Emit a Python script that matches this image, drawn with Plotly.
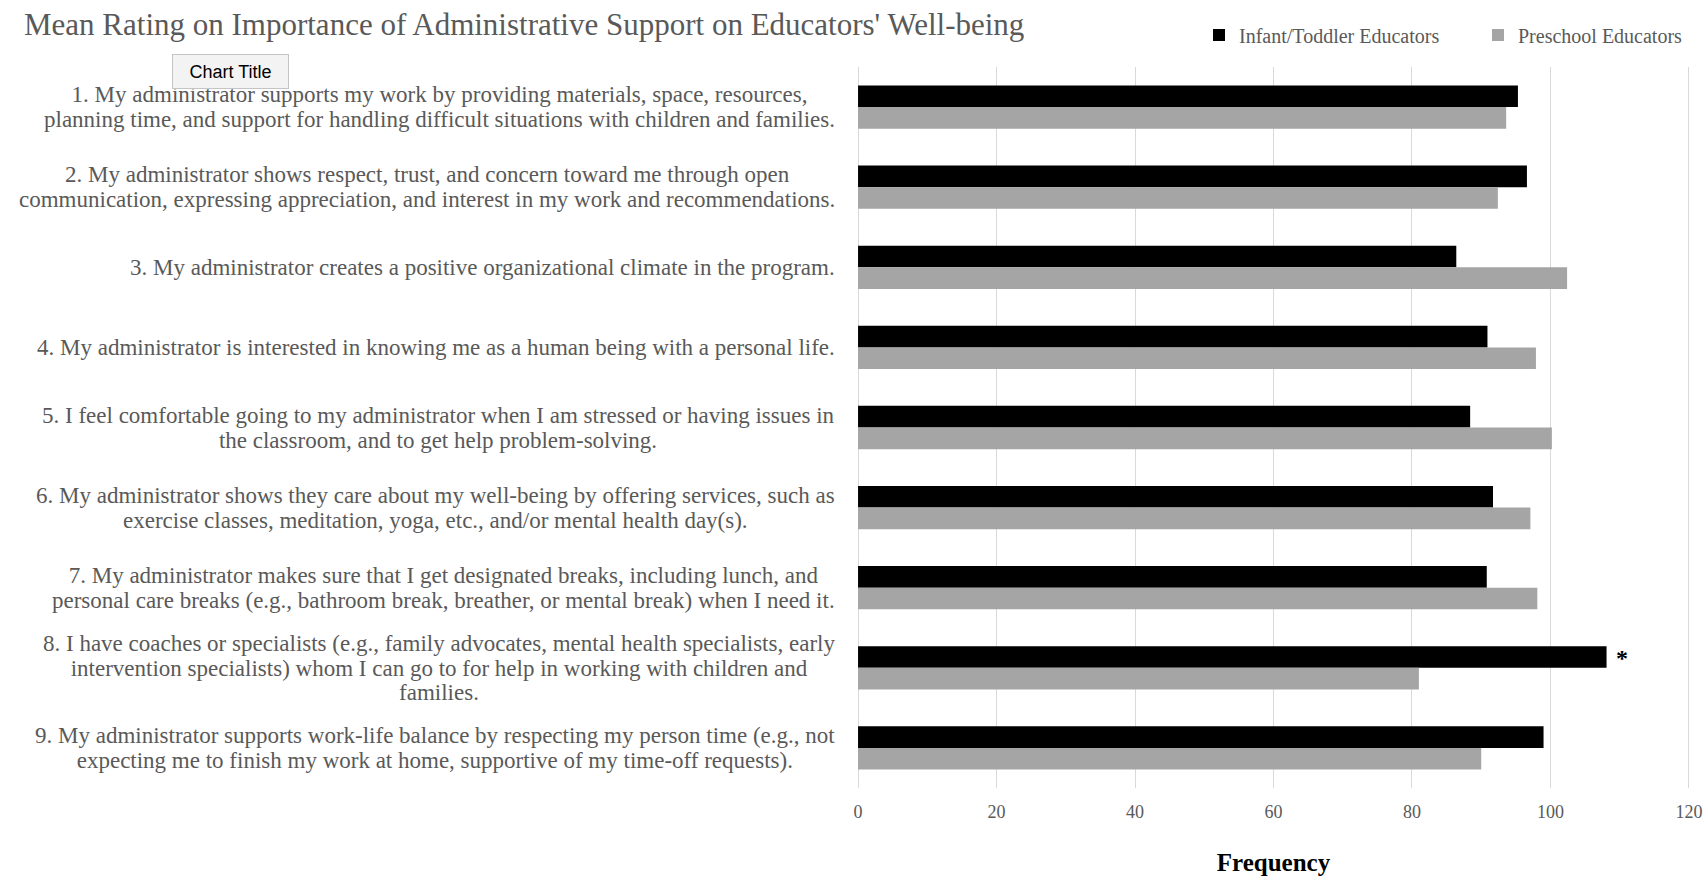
import plotly.graph_objects as go

# ---------------- data ----------------
title_text = "Mean Rating on Importance of Administrative Support on Educators' Well-being"
series_names = ["Infant/Toddler Educators", "Preschool Educators"]
categories = ["Item 1", "Item 2", "Item 3", "Item 4", "Item 5", "Item 6", "Item 7", "Item 8", "Item 9"]
item_lines = [
    ["1. My administrator supports my work by providing materials, space, resources,",
     "planning time, and support for handling difficult situations with children and families."],
    ["2. My administrator shows respect, trust, and concern toward me through open",
     "communication, expressing appreciation, and interest in my work and recommendations."],
    ["3. My administrator creates a positive organizational climate in the program."],
    ["4. My administrator is interested in knowing me as a human being with a personal life."],
    ["5. I feel comfortable going to my administrator when I am stressed or having issues in",
     "the classroom, and to get help problem-solving."],
    ["6. My administrator shows they care about my well-being by offering services, such as",
     "exercise classes, meditation, yoga, etc., and/or mental health day(s)."],
    ["7. My administrator makes sure that I get designated breaks, including lunch, and",
     "personal care breaks (e.g., bathroom break, breather, or mental break) when I need it."],
    ["8. I have coaches or specialists (e.g., family advocates, mental health specialists, early",
     "intervention specialists) whom I can go to for help in working with children and",
     "families."],
    ["9. My administrator supports work-life balance by respecting my person time (e.g., not",
     "expecting me to finish my work at home, supportive of my time-off requests)."],
]
infant = [95.3, 96.6, 86.4, 90.9, 88.4, 91.7, 90.8, 108.1, 99.0]
preschool = [93.6, 92.4, 102.4, 97.9, 100.2, 97.1, 98.1, 81.0, 90.0]
significant = [False, False, False, False, False, False, False, True, False]
x_ticks = [0, 20, 40, 60, 80, 100, 120]
x_title = "Frequency"
tooltip_text = "Chart Title"

# ---------------- style ----------------
W, H = 1705, 878
ML, MR, MT, MB = 857, 15, 67, 90
PW, PH = W - ML - MR, H - MT - MB
SERIF = "Liberation Serif, Times New Roman, serif"
GREY_TXT = "#595959"
COLORS = ["#000000", "#A5A5A5"]

fig = go.Figure()
for name, vals, col in zip(series_names, [infant, preschool], COLORS):
    fig.add_trace(go.Bar(
        y=categories, x=vals, name=name, orientation="h",
        marker=dict(color=col, line=dict(width=0)),
        hoverinfo="x+name",
    ))

annotations = []
# category labels (centered lines, right-aligned block)
for cat, lines in zip(categories, item_lines):
    txt = "<br>".join('<span style="font-size:23px">%s</span>' % ln for ln in lines)
    annotations.append(dict(
        x=0, xref="paper", y=cat, yref="y", xanchor="right", yanchor="middle",
        xshift=-20, text=txt, showarrow=False, align="center",
        font=dict(family=SERIF, size=19, color=GREY_TXT),
    ))

# significance marker
for cat, v, sig in zip(categories, infant, significant):
    if sig:
        annotations.append(dict(
            x=v, xref="x", y=cat, yref="y", xanchor="left", yanchor="middle",
            xshift=7, yshift=10, text="<b>*</b>", showarrow=False,
            font=dict(family=SERIF, size=24, color="#000000"),
        ))

# tooltip-like box
annotations.append(dict(
    x=(230 - ML) / PW, xref="paper", y=(H - MB - 71) / PH, yref="paper",
    xanchor="center", yanchor="middle", text=tooltip_text, showarrow=False,
    width=113, height=31, bgcolor="#F3F3F3", bordercolor="#C4C4C4", borderwidth=1,
    font=dict(family="Liberation Sans, Arial, sans-serif", size=18, color="#000000"),
))

fig.update_layout(
    width=W, height=H,
    margin=dict(l=ML, r=MR, t=MT, b=MB, autoexpand=False),
    paper_bgcolor="white", plot_bgcolor="white",
    barmode="group", bargap=0.46, bargroupgap=0,
    title=dict(text=title_text, x=24 / W, xanchor="left", y=1 - 24 / H, yanchor="middle",
               font=dict(family=SERIF, size=31, color=GREY_TXT)),
    legend=dict(orientation="h", x=(1199 - ML) / PW, xanchor="left",
                y=(H - MB - 35) / PH, yanchor="middle",
                font=dict(family=SERIF, size=20, color=GREY_TXT),
                entrywidth=234, traceorder="normal", bgcolor="rgba(0,0,0,0)"),
    xaxis=dict(range=[-0.15, 120.15], tickvals=x_ticks, ticktext=[str(t) for t in x_ticks],
               showgrid=True, gridcolor="#D9D9D9", gridwidth=1, zeroline=False,
               showline=False, ticks="", ticklabelstandoff=11,
               tickfont=dict(family=SERIF, size=18, color=GREY_TXT),
               title=dict(text="<b>%s</b>" % x_title, standoff=32,
                          font=dict(family=SERIF, size=25, color="#000000"))),
    yaxis=dict(categoryorder="array", categoryarray=categories, autorange="reversed",
               showticklabels=False, showgrid=False, zeroline=False, showline=False, ticks=""),
    annotations=annotations,
    showlegend=True,
)

fig.write_html("out.html")
